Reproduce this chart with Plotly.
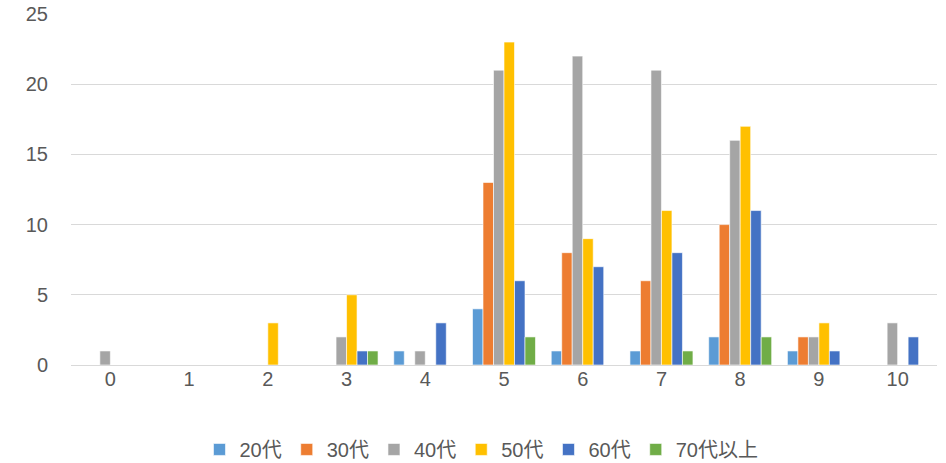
import plotly.graph_objects as go

categories = ["0", "1", "2", "3", "4", "5", "6", "7", "8", "9", "10"]
series_names = ["20代", "30代", "40代", "50代", "60代", "70代以上"]
v20 = [0, 0, 0, 0, 1, 4, 1, 1, 2, 1, 0]
v30 = [0, 0, 0, 0, 0, 13, 8, 6, 10, 2, 0]
v40 = [1, 0, 0, 2, 1, 21, 22, 21, 16, 2, 3]
v50 = [0, 0, 3, 5, 0, 23, 9, 11, 17, 3, 0]
v60 = [0, 0, 0, 1, 3, 6, 7, 8, 11, 1, 2]
v70 = [0, 0, 0, 1, 0, 2, 0, 1, 2, 0, 0]
colors = ["#5B9BD5", "#ED7D31", "#A5A5A5", "#FFC000", "#4472C4", "#70AD47"]

all_values = [v20, v30, v40, v50, v60, v70]

font_family = "Liberation Sans, Noto Sans CJK JP, sans-serif"

fig = go.Figure()
for name, vals, col in zip(series_names, all_values, colors):
    fig.add_trace(go.Bar(
        x=categories, y=vals, name=name,
        marker=dict(color=col, line=dict(color="white", width=0.6)),
    ))

fig.update_layout(
    width=946, height=463,
    margin=dict(l=71, r=9, t=14, b=98, autoexpand=False),
    paper_bgcolor="white", plot_bgcolor="white",
    barmode="group", bargap=0.2, bargroupgap=0,
    font=dict(family=font_family, size=20, color="#595959"),
    xaxis=dict(type="category", showgrid=False, showline=False, ticks="",
               tickfont=dict(size=20, color="#595959")),
    yaxis=dict(range=[0, 25], dtick=5, showgrid=True, gridcolor="#D9D9D9",
               gridwidth=1, zeroline=True, zerolinecolor="#D9D9D9", zerolinewidth=1,
               showline=False, ticks="", ticklabelstandoff=22,
               tickfont=dict(size=20, color="#595959")),
    legend=dict(orientation="h", x=0.474, xanchor="center", y=-0.185, yanchor="top",
                font=dict(size=20, color="#595959"), itemwidth=30,
                traceorder="normal"),
    showlegend=True,
)

fig.write_html("out.html", config={"displayModeBar": False},
               post_script="document.body.style.margin='0';")
